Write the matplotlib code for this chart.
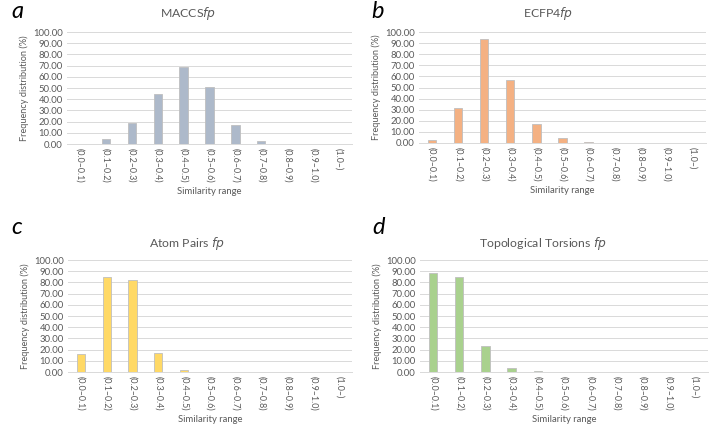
import matplotlib
matplotlib.use("Agg")
import matplotlib.pyplot as plt
import numpy as np

plt.rcParams['font.family'] = ['Lato', 'DejaVu Sans']

categories = ["(0.0–0.1)", "(0.1–0.2)", "(0.2–0.3)", "(0.3–0.4)", "(0.4–0.5)",
              "(0.5–0.6)", "(0.6–0.7)", "(0.7–0.8)", "(0.8–0.9)", "(0.9–1.0)", "(1.0–)"]

maccs = [0.4, 4.5, 18.5, 45.0, 69.0, 51.0, 17.0, 3.0, 0.4, 0.4, 0.4]
ecfp4 = [3.0, 31.5, 93.5, 57.0, 17.0, 4.5, 1.0, 0.0, 0.0, 0.0, 0.0]
atom_pairs = [16.0, 85.0, 82.5, 17.0, 1.5, 0.0, 0.0, 0.0, 0.0, 0.0, 0.0]
torsions = [88.5, 84.5, 23.5, 4.0, 1.0, 0.4, 0.4, 0.4, 0.4, 0.4, 0.4]

yticks = np.arange(0, 101, 10)

W, H = 716, 430
fig = plt.figure(figsize=(W / 100, H / 100), dpi=100)

def px_axes(l, t, r, b):
    return fig.add_axes([l / W, 1 - b / H, (r - l) / W, (b - t) / H])

panels = [
    dict(box=(67, 32, 352, 144), vals=maccs, color="#ADB9CA", title="MACCS$\\it{fp}$",
         tpos=(188, 14), letter="a", lpos=(17, 12), xl=192),
    dict(box=(419, 32, 706, 143), vals=ecfp4, color="#F4B183", title="ECFP4$\\it{fp}$",
         tpos=(548, 14), letter="b", lpos=(378, 12), xl=191),
    dict(box=(68, 260, 352, 372), vals=atom_pairs, color="#FFD966", title="Atom Pairs $\\it{fp}$",
         tpos=(187, 243), letter="c", lpos=(17, 228), xl=419),
    dict(box=(420, 260, 708, 372), vals=torsions, color="#A9D18E", title="Topological Torsions $\\it{fp}$",
         tpos=(543, 243), letter="d", lpos=(379, 228), xl=419),
]

tc = "#595959"
for p in panels:
    ax = px_axes(*p["box"])
    x = np.arange(len(categories))
    ax.bar(x, p["vals"], width=0.32, color=p["color"], edgecolor="#BFBFBF", linewidth=0.6, zorder=3)
    ax.set_ylim(0, 100)
    ax.set_xlim(-0.5, len(categories) - 0.5)
    ax.set_yticks(yticks)
    ax.set_yticklabels([f"{v:.2f}" for v in yticks], fontsize=6.8, color=tc)
    ax.set_xticks(x)
    ax.set_xticklabels(categories, rotation=270, fontsize=6.4, color=tc)
    ax.tick_params(axis="both", length=0, pad=3)
    ax.grid(axis="y", color="#D9D9D9", linewidth=0.7, zorder=0)
    for s in ["top", "right", "left"]:
        ax.spines[s].set_visible(False)
    ax.spines["bottom"].set_color("#D9D9D9")
    ax.spines["bottom"].set_linewidth(0.7)
    ax.set_ylabel("Frequency distribution (%)", fontsize=6.6, color=tc, labelpad=3)
    fig.text(p["tpos"][0] / W, 1 - p["tpos"][1] / H, p["title"], fontsize=8.8, color=tc,
             ha="center", va="center")
    fig.text((p["box"][0] + p["box"][2]) / 2 / W, 1 - p["xl"] / H, "Similarity range",
             fontsize=6.8, color=tc, ha="center", va="center")
    fig.text(p["lpos"][0] / W, 1 - p["lpos"][1] / H, p["letter"], fontsize=17,
             style="italic", ha="center", va="center", color="black")

fig.savefig("out.png", dpi=100)
